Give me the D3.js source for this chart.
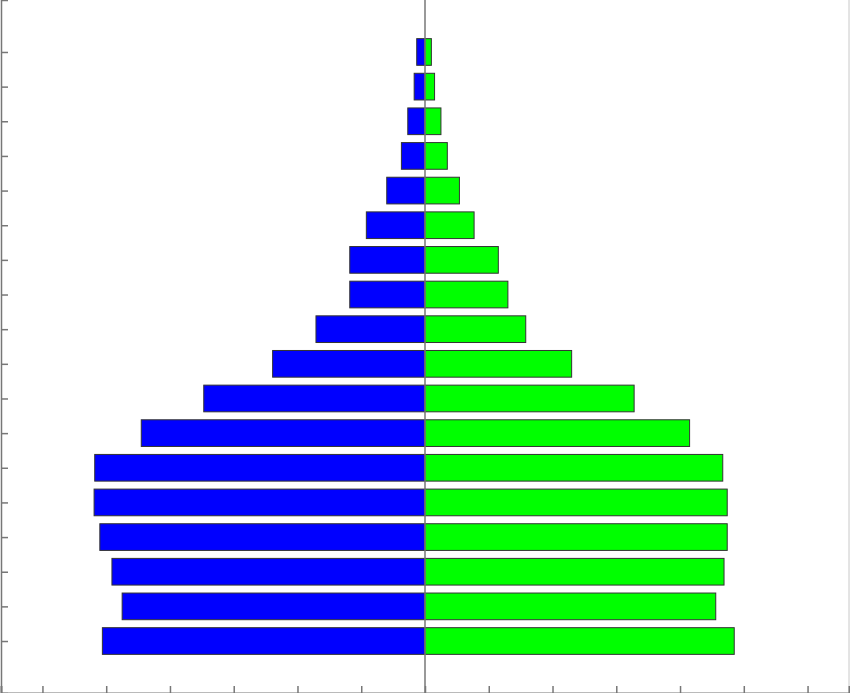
<!DOCTYPE html>
<html>
<head>
<meta charset="utf-8">
<script src="https://cdn.jsdelivr.net/npm/d3@7"></script>
<style>
    body { margin: 0; background: #fff; }
    svg { display: block; }
</style>
</head>
<body>
<script>
// age groups, bottom (youngest) to top (oldest)
var groups = [1, 2, 3, 4, 5, 6, 7, 8, 9, 10, 11, 12, 13, 14, 15, 16, 17, 18];
var left = [5.06, 4.75, 4.91, 5.10, 5.19, 5.18, 4.45, 3.47, 2.39, 1.71,
            1.18, 1.18, 0.92, 0.60, 0.37, 0.27, 0.17, 0.13];
var right = [4.85, 4.56, 4.69, 4.74, 4.74, 4.67, 4.15, 3.28, 2.30, 1.58,
             1.30, 1.15, 0.77, 0.54, 0.35, 0.25, 0.15, 0.10];
var xTicks = [-6, -5, -4, -3, -2, -1, 0, 1, 2, 3, 4, 5, 6];

var w = 850;
var h = 693;

var svg = d3.select("body")
    .append("svg")
    .attr("width", w)
    .attr("height", h);

var x = d3.scaleLinear()
    .domain([-6.65, 6.65])
    .range([1, 849]);

var y = d3.scaleLinear()
    .domain([-0.5, 19.5])
    .range([h, 0]);

var barH = Math.abs(y(0) - y(0.77));

// right side border
svg.append("line")
    .attr("x1", 849).attr("x2", 849)
    .attr("y1", 0).attr("y2", h)
    .attr("stroke", "#c8c8c8")
    .attr("stroke-width", 1);

// blue bars (left)
svg.selectAll("rect.left")
    .data(groups)
    .enter()
    .append("rect")
    .attr("class", "left")
    .attr("x", function (d, i) { return x(-left[i]); })
    .attr("width", function (d, i) { return x(0) - x(-left[i]); })
    .attr("y", function (d) { return y(d) - barH / 2; })
    .attr("height", barH)
    .attr("fill", "#0000ff")
    .attr("stroke", "#333")
    .attr("stroke-width", 1);

// green bars (right)
svg.selectAll("rect.right")
    .data(groups)
    .enter()
    .append("rect")
    .attr("class", "right")
    .attr("x", x(0))
    .attr("width", function (d, i) { return x(right[i]) - x(0); })
    .attr("y", function (d) { return y(d) - barH / 2; })
    .attr("height", barH)
    .attr("fill", "#00ff00")
    .attr("stroke", "#333")
    .attr("stroke-width", 1);

// zero line
svg.append("line")
    .attr("x1", x(0)).attr("x2", x(0))
    .attr("y1", 0).attr("y2", h)
    .attr("stroke", "#777")
    .attr("stroke-width", 1.5);

// left axis, ticks pointing inward
var yAxis = svg.append("g")
    .attr("transform", "translate(1,0)")
    .call(d3.axisLeft(y).tickValues(groups).tickSize(-7).tickFormat(""));

// bottom axis, ticks pointing up
var xAxis = svg.append("g")
    .attr("transform", "translate(0," + h + ")")
    .call(d3.axisBottom(x).tickValues(xTicks).tickSize(-7).tickFormat(""));

svg.selectAll(".domain").attr("stroke", "#777").attr("stroke-width", 1.5);
svg.selectAll(".tick line").attr("stroke", "#777").attr("stroke-width", 1.5);
xAxis.select(".domain").attr("stroke-width", 2);
</script>
</body>
</html>
